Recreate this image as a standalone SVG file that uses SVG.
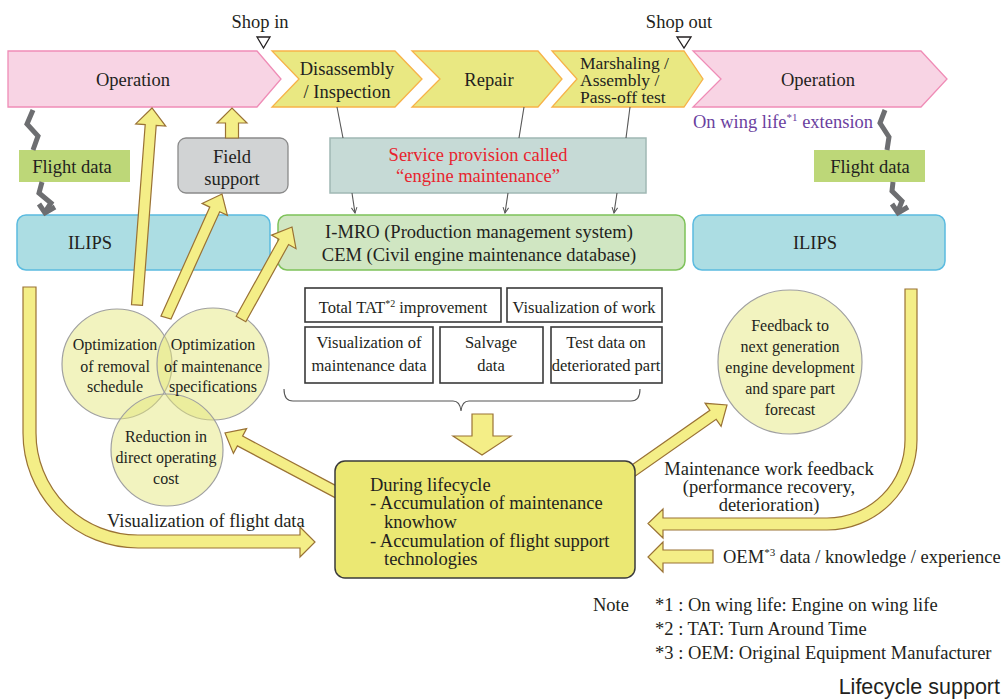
<svg xmlns="http://www.w3.org/2000/svg" width="1003" height="699" viewBox="0 0 1003 699">
<style>
text{font-family:"Liberation Serif","Times New Roman",serif;fill:#231f20;font-size:18.5px}
.c{text-anchor:middle}
.s{font-size:16.5px}
.ci{font-size:16px}
.m{font-size:17.5px}
.pink{fill:#f8d4e4;stroke:#ef8cb6;stroke-width:1.3}
.chev{fill:#e9e882;stroke:#f7b248;stroke-width:1.3}
.ya{fill:#f4ee87;stroke:#9a7235;stroke-width:1.2;stroke-linejoin:miter}
.circ{fill:#e3e67a;fill-opacity:0.48;stroke:#a0a0a0;stroke-width:1.2}
.wb{fill:#fff;stroke:#3a3a3a;stroke-width:1.6}
.zig{fill:none;stroke:#6d6e71;stroke-width:5;stroke-linejoin:miter}
.ln{fill:none;stroke:#555;stroke-width:1.1}
.tri{fill:#fff;stroke:#231f20;stroke-width:1.3}
</style>
<defs>
<marker id="ah" viewBox="0 0 10 10" refX="9" refY="5" markerWidth="7" markerHeight="7" orient="auto" markerUnits="userSpaceOnUse">
<path d="M1 1 L9 5 L1 9" fill="none" stroke="#555" stroke-width="1.4"/>
</marker>
</defs>

<g id="shop-in"><text class="c" x="260" y="28">Shop in</text><polygon class="tri" points="257,37 270,37 263.5,48"/></g>
<g id="shop-out"><text class="c" x="679" y="28">Shop out</text><polygon class="tri" points="677,37 691,37 684,48"/></g>

<g id="operation-left"><polygon class="pink" points="8,51 257,51 281,79 257,107 8,107"/><text class="c" x="133" y="86">Operation</text></g>
<g id="disassembly"><polygon class="chev" points="272,51 395,51 422,79 395,107 272,107 299,79"/><text class="c" x="347" y="75">Disassembly</text><text class="c" x="347" y="98">/ Inspection</text></g>
<g id="repair"><polygon class="chev" points="412,51 538,51 562,79 538,107 412,107 440,79"/><text class="c" x="489" y="86">Repair</text></g>
<g id="marshaling"><polygon class="chev" points="552,51 684,51 703,79 684,107 552,107 577,79"/><text class="m" x="580" y="69">Marshaling /</text><text class="m" x="580" y="86">Assembly /</text><text class="m" x="580" y="102.5">Pass-off test</text></g>
<g id="operation-right"><polygon class="pink" points="693,51 921,51 947,79 921,107 693,107 721,79"/><text class="c" x="818" y="86">Operation</text></g>

<g id="on-wing"><text x="693" y="128" style="fill:#6b3fa0">On wing life<tspan font-size="11" dy="-7">*1</tspan><tspan dy="7"> extension</tspan></text></g>

<g id="flight-data-left"><rect x="19" y="150" width="111" height="32" fill="#bdd778"/><text class="c" x="72" y="173">Flight data</text></g>
<g id="flight-data-right"><rect x="814" y="150" width="111" height="32" fill="#bdd778"/><text class="c" x="870" y="173">Flight data</text></g>

<g id="field-support"><rect x="178" y="138" width="110" height="55" rx="8" fill="#d1d3d4" stroke="#8a8a8a" stroke-width="1.3"/><text class="c" x="232" y="163">Field</text><text class="c" x="232" y="185">support</text></g>

<g id="service"><rect x="330" y="138" width="316" height="55" fill="#c6dad6" stroke="#a0b8b4" stroke-width="1.5"/><text class="c" x="478" y="161" style="fill:#e8242e">Service provision called</text><text class="c" x="478" y="182" style="fill:#e8242e">“engine maintenance”</text></g>

<g id="ilips-left"><rect x="17" y="215" width="253" height="55" rx="9" fill="#acdde3" stroke="#5bbbe0" stroke-width="1.5"/><text class="c" x="90" y="249">ILIPS</text></g>
<g id="imro"><rect x="278" y="215" width="407" height="55" rx="9" fill="#d0e6c2" stroke="#7ec25a" stroke-width="1.5"/><text class="c" x="479" y="238">I-MRO (Production management system)</text><text class="c" x="479" y="261">CEM (Civil engine maintenance database)</text></g>
<g id="ilips-right"><rect x="693" y="215" width="252" height="55" rx="9" fill="#acdde3" stroke="#5bbbe0" stroke-width="1.5"/><text class="c" x="815" y="249">ILIPS</text></g>

<g id="tat"><rect class="wb" x="305" y="288" width="196" height="34"/><text class="c s" x="403" y="313">Total TAT<tspan font-size="10" dy="-6">*2</tspan><tspan dy="6"> improvement</tspan></text></g>
<g id="vis-work"><rect class="wb" x="507" y="288" width="155" height="34"/><text class="c s" x="584" y="313">Visualization of work</text></g>
<g id="vis-maint"><rect class="wb" x="305" y="327" width="128" height="56"/><text class="c s" x="369" y="348">Visualization of</text><text class="c s" x="369" y="371">maintenance data</text></g>
<g id="salvage"><rect class="wb" x="440" y="327" width="103" height="56"/><text class="c s" x="491" y="348">Salvage</text><text class="c s" x="491" y="371">data</text></g>
<g id="test-data"><rect class="wb" x="551" y="327" width="111" height="56"/><text class="c s" x="606" y="348">Test data on</text><text class="c s" x="606" y="371">deteriorated part</text></g>

<g id="circle-removal"><circle class="circ" cx="117" cy="364" r="55"/></g>
<g id="circle-spec"><circle class="circ" cx="213" cy="364" r="56"/></g>
<g id="circle-doc"><circle class="circ" cx="167" cy="450" r="56"/></g>
<g id="circle-feedback"><circle class="circ" cx="790" cy="362" r="72"/></g>
<g id="circle-texts">
<text class="c ci" x="115" y="350">Optimization</text><text class="c ci" x="115" y="372">of removal</text><text class="c ci" x="115" y="392">schedule</text>
<text class="c ci" x="213" y="350">Optimization</text><text class="c ci" x="213" y="372">of maintenance</text><text class="c ci" x="213" y="392">specifications</text>
<text class="c ci" x="166" y="442">Reduction in</text><text class="c ci" x="166" y="463">direct operating</text><text class="c ci" x="166" y="484">cost</text>
<text class="c ci" x="790" y="331">Feedback to</text><text class="c ci" x="790" y="352">next generation</text><text class="c ci" x="790" y="373">engine development</text><text class="c ci" x="790" y="394">and spare part</text><text class="c ci" x="790" y="415">forecast</text>
</g>

<g id="connectors">
<line class="ln" x1="337" y1="107" x2="343" y2="138"/>
<line class="ln" x1="524" y1="107" x2="519" y2="138"/>
<line class="ln" x1="630" y1="107" x2="626" y2="138"/>
<line class="ln" x1="352" y1="193" x2="355" y2="213" marker-end="url(#ah)"/>
<line class="ln" x1="508" y1="193" x2="505" y2="213" marker-end="url(#ah)"/>
<line class="ln" x1="617" y1="193" x2="614" y2="213" marker-end="url(#ah)"/>
<polyline class="zig" points="33,110 27,124 38,136 33,150"/>
<polyline class="zig" points="42,182 39,193 51,203 45,212"/>
<polyline class="zig" stroke-width="4" points="39,204 45,213 55,207"/>
<polyline class="zig" points="885,110 880,123 889,137 887,150"/>
<polyline class="zig" points="893,182 892,191 902,201 898,211"/>
<polyline class="zig" stroke-width="4" points="892,204 898,213 908,207"/>
<path class="ln" stroke="#231f20" stroke-width="1.5" d="M284 389 Q284 401 293 401 L453 401 Q460 401 461 411 Q462 401 469 401 L631 401 Q640 401 640 389"/>
<polygon class="ya" points="131.5,304.6 145.2,124.6 135.7,123.9 152,108 165.7,126.1 156.2,125.4 142.5,305.4"/>
<polygon class="ya" points="225.5,138 225.5,123 217,123 232,108 247,123 238.5,123 238.5,138"/>
<polygon class="ya" points="161,316 209.8,207.1 202.1,203.4 222,194 227.4,215.4 219.7,211.7 171,319"/>
<polygon class="ya" points="236.2,316.3 278.9,239.2 271.5,235.1 292,227 296,248.7 288.6,244.5 245.8,321.7"/>
<polygon class="ya" points="340.6,488.1 242.6,436.1 246.6,428.6 225,433 233.4,453.4 237.4,445.9 335.4,497.9"/>
<polygon class="ya" points="626.8,468.5 709.9,410.3 705.1,403.3 727,405 721.1,426.3 716.2,419.3 633.2,477.5"/>
<polygon class="ya" points="472,414 493,414 493,436 511,436 482,455 453,436 472,436"/>
<polygon class="ya" points="713,550 713,563 663,563 663,572 648,557 663,542 663,550"/>
<path class="ya" d="M23 287 L23 433 A115 115 0 0 0 138 548 L300 548 L300 557 L315 542 L300 527 L300 535 L138 535 A102 102 0 0 1 36 433 L36 287 Z"/>
<path class="ya" d="M917 289 L917 440 A90 90 0 0 1 827 530 L663 530 L663 538 L648 523.5 L663 509 L663 518 L827 518 A78 78 0 0 0 905 440 L905 289 Z"/>
</g>

<g id="lifecycle-box"><rect x="335" y="461" width="300" height="117" rx="10" fill="#ebe873" stroke="#3a3a3a" stroke-width="1.5"/>
<text x="370" y="491">During lifecycle</text>
<text x="370" y="509">- Accumulation of maintenance</text>
<text x="384" y="528">knowhow</text>
<text x="370" y="547">- Accumulation of flight support</text>
<text x="384" y="565">technologies</text></g>

<g id="labels">
<text x="107" y="527">Visualization of flight data</text>
<text class="c" x="769" y="475">Maintenance work feedback</text>
<text class="c" x="769" y="493">(performance recovery,</text>
<text class="c" x="769" y="511">deterioration)</text>
<text x="723" y="563">OEM<tspan font-size="11" dy="-7">*3</tspan><tspan dy="7"> data / knowledge / experience</tspan></text>
</g>

<g id="notes">
<text x="593" y="611">Note</text>
<text x="655" y="611">*1 : On wing life: Engine on wing life</text>
<text x="655" y="635">*2 : TAT: Turn Around Time</text>
<text x="655" y="659">*3 : OEM: Original Equipment Manufacturer</text>
<text x="1000" y="694" style="font-family:'Liberation Sans',Arial,sans-serif;font-size:21.5px;text-anchor:end">Lifecycle support</text>
</g>
</svg>
